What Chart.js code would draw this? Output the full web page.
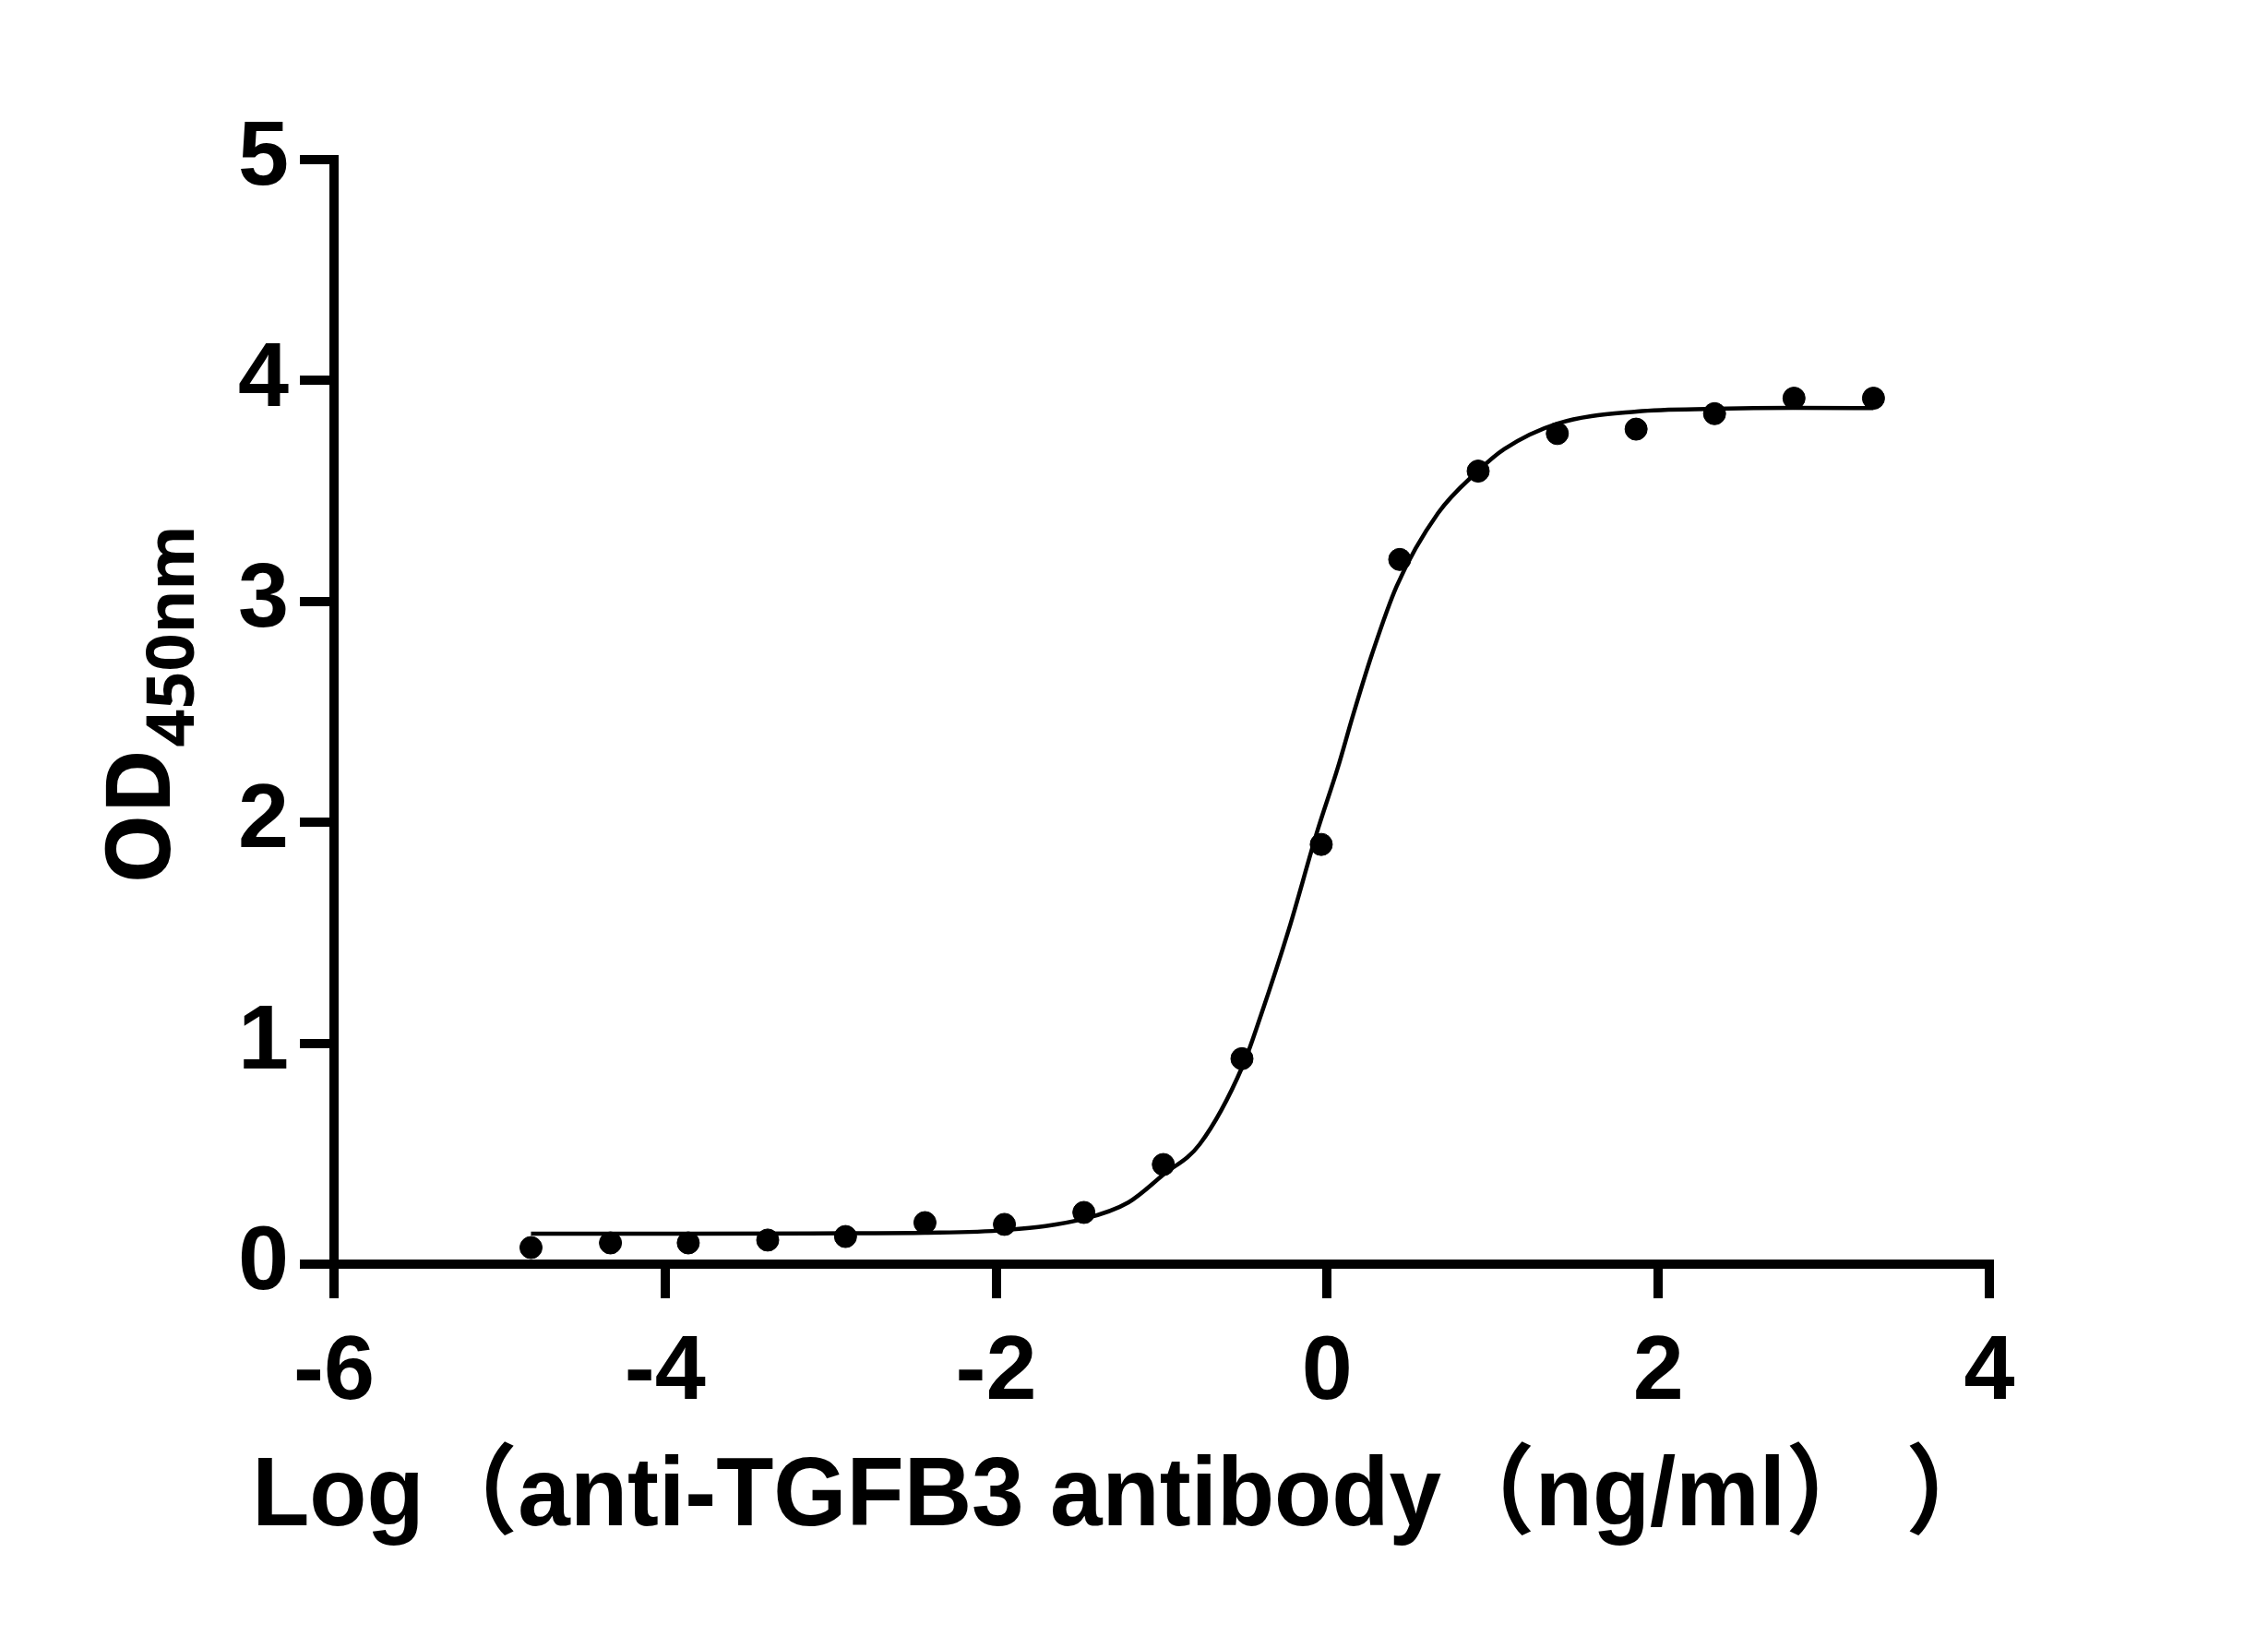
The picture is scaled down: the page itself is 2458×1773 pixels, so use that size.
<!DOCTYPE html>
<html>
<head>
<meta charset="utf-8">
<script src="https://cdn.jsdelivr.net/npm/chart.js@4.4.1/dist/chart.umd.min.js"></script>
<style>
  html, body { margin: 0; padding: 0; background: #fff; }
  canvas { display: block; }
</style>
</head>
<body>
<canvas id="chart" width="2458" height="1773"></canvas>
<script>
// measured points: log concentration vs OD450
var logConc = [-4.81, -4.33, -3.86, -3.38, -2.91, -2.43, -1.95, -1.47, -0.99, -0.515, -0.036, 0.438, 0.912, 1.39, 1.866, 2.34, 2.82, 3.30];
var od450 = [0.075, 0.096, 0.096, 0.109, 0.125, 0.188, 0.180, 0.234, 0.451, 0.930, 1.900, 3.190, 3.590, 3.760, 3.780, 3.850, 3.920, 3.920];

// fitted curve
var curveX = [-4.81, -3.86, -2.91, -2.43, -1.95, -1.47, -1.20, -0.99, -0.77, -0.51, -0.40, -0.23, -0.064, 0.065, 0.158, 0.27, 0.42, 0.67, 0.91, 1.07, 1.39, 1.87, 2.34, 2.82, 3.30];
var curveY = [0.138, 0.138, 0.140, 0.142, 0.154, 0.205, 0.280, 0.405, 0.543, 0.898, 1.128, 1.520, 1.950, 2.250, 2.490, 2.760, 3.070, 3.400, 3.590, 3.690, 3.805, 3.860, 3.872, 3.876, 3.875];

var xTicks = [-6, -4, -2, 0, 2, 4];
var yTicks = [0, 1, 2, 3, 4, 5];

var xTitle = "Log（anti-TGFB3 antibody（ng/ml） ）";
var yTitleMain = "OD";
var yTitleSub = "450nm";

var tickFont = { family: "'Liberation Sans', Arial, sans-serif", size: 99, weight: "bold" };

function toXY(xs, ys) {
    var out = [];
    xs.forEach(function (x, i) { out.push({ x: x, y: ys[i] }); });
    return out;
}

// axis titles drawn by hand (slightly narrow x title, subscript on the y title)
var axisTitles = {
    id: "axisTitles",
    afterDraw: function (chart) {
        var ctx = chart.ctx;
        var area = chart.chartArea;
        ctx.save();
        ctx.fillStyle = "#000";
        ctx.textBaseline = "alphabetic";

        ctx.save();
        ctx.translate(1220, 1653);
        ctx.scale(0.96, 1);
        ctx.font = "bold 106px 'Liberation Sans', 'Noto Sans CJK SC', sans-serif";
        ctx.textAlign = "center";
        ctx.fillText(xTitle, 0, 0);
        ctx.restore();

        ctx.translate(area.left - 178, 958);
        ctx.rotate(-Math.PI / 2);
        ctx.textAlign = "left";
        ctx.font = "bold 96px 'Noto Sans', 'Open Sans', sans-serif";
        ctx.fillText(yTitleMain, 0, 0);
        var w = ctx.measureText(yTitleMain).width;
        ctx.font = "bold 72px 'Noto Sans', 'Open Sans', sans-serif";
        ctx.fillText(yTitleSub, w + 2, 26);
        ctx.restore();
    }
};

var context = document.getElementById("chart").getContext("2d");

new Chart(context, {
    type: "scatter",
    data: {
        datasets: [
            {
                type: "line",
                label: "fit",
                data: toXY(curveX, curveY),
                borderColor: "#000",
                borderWidth: 4.5,
                pointRadius: 0,
                fill: false,
                cubicInterpolationMode: "monotone"
            },
            {
                type: "scatter",
                label: "OD450",
                data: toXY(logConc, od450),
                backgroundColor: "#000",
                borderColor: "#000",
                pointRadius: 12,
                pointHoverRadius: 12
            }
        ]
    },
    options: {
        responsive: false,
        animation: false,
        devicePixelRatio: 1,
        layout: { padding: { top: 173, right: 302, bottom: 0, left: 0 } },
        plugins: {
            legend: { display: false },
            tooltip: { enabled: false }
        },
        scales: {
            x: {
                type: "linear",
                min: -6,
                max: 4,
                afterFit: function (scale) { scale.height = 403; },
                afterBuildTicks: function (scale) {
                    scale.ticks = xTicks.map(function (v) { return { value: v }; });
                },
                border: { display: true, color: "#000", width: 10 },
                grid: { drawOnChartArea: false, drawTicks: true, tickLength: 37, lineWidth: 10, color: "#000" },
                ticks: { color: "#000", font: tickFont, padding: 22, maxRotation: 0, minRotation: 0 }
            },
            y: {
                type: "linear",
                min: 0,
                max: 5,
                afterFit: function (scale) { scale.width = 362; },
                afterBuildTicks: function (scale) {
                    scale.ticks = yTicks.map(function (v) { return { value: v }; });
                },
                border: { display: true, color: "#000", width: 10 },
                grid: { drawOnChartArea: false, drawTicks: true, tickLength: 37, lineWidth: 10, color: "#000" },
                ticks: { color: "#000", font: tickFont, padding: 12 }
            }
        }
    },
    plugins: [axisTitles]
});
</script>
</body>
</html>
